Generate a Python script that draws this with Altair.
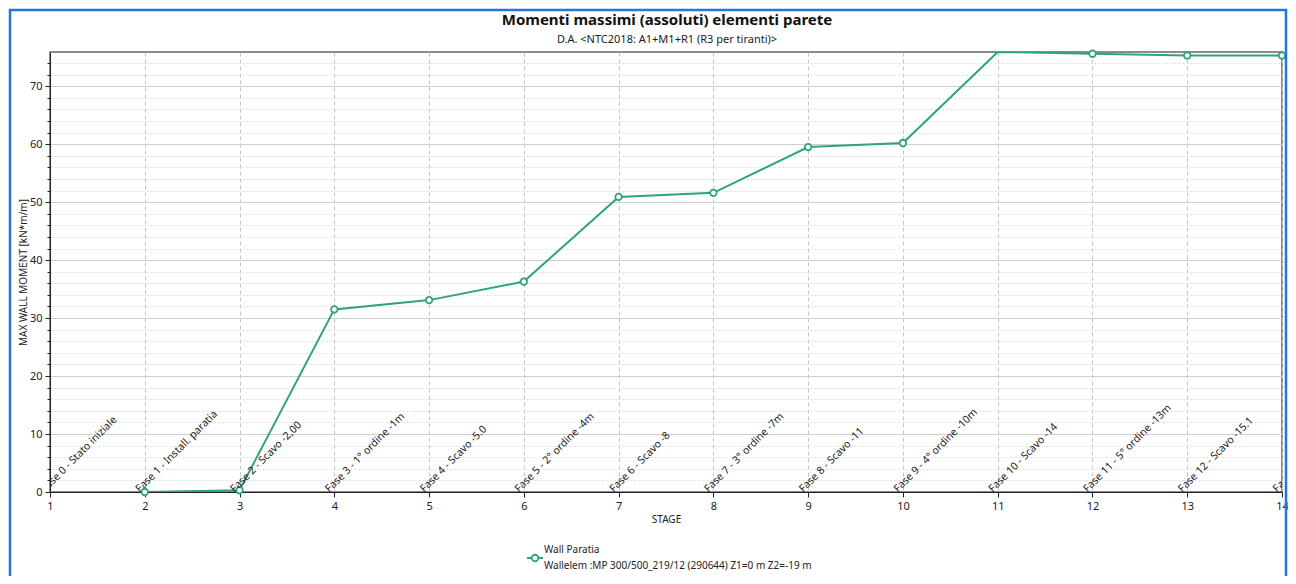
import altair as alt
import pandas as pd

# ---- data ----
stages = [2, 3, 4, 5, 6, 7, 8, 9, 10, 11, 12, 13, 14]
moments = [0.0, 0.3, 31.5, 33.1, 36.3, 50.9, 51.6, 59.5, 60.2, 75.9, 75.6, 75.3, 75.3]

phase_x = [1, 2, 3, 4, 5, 6, 7, 8, 9, 10, 11, 12, 13, 14]
phase_labels = [
    "Fase 0 - Stato iniziale",
    "Fase 1 - Install. paratia",
    "Fase 2 - Scavo -2,00",
    "Fase 3 - 1° ordine -1m",
    "Fase 4 - Scavo -5.0",
    "Fase 5 - 2° ordine -4m",
    "Fase 6 - Scavo -8",
    "Fase 7 - 3° ordine -7m",
    "Fase 8 - Scavo -11",
    "Fase 9 - 4° ordine -10m",
    "Fase 10 - Scavo -14",
    "Fase 11 - 5° ordine -13m",
    "Fase 12 - Scavo -15.1",
    "Fase 13",
]

x_ticks = list(range(1, 15))
y_ticks = list(range(0, 76, 2))
y_max = 75.9

title_text = "Momenti massimi (assoluti) elementi parete"
subtitle_text = "D.A. <NTC2018: A1+M1+R1 (R3 per tiranti)>"
y_title = "MAX WALL MOMENT [kN*m/m]"
x_title = "STAGE"
legend_line1 = "Wall Paratia"
legend_line2 = "Wallelem :MP 300/500_219/12 (290644) Z1=0 m Z2=-19 m"

GREEN = "#2ea37d"
FONT = "Noto Sans"
W, H = 1232, 440

df = pd.DataFrame({"stage": stages, "moment": moments})
df_lab = pd.DataFrame({"stage": phase_x, "label": phase_labels})

xscale = alt.Scale(domain=[1, 14], nice=False, zero=False)
yscale = alt.Scale(domain=[0, y_max], nice=False)

x_enc = alt.X(
    "stage:Q",
    scale=xscale,
    axis=alt.Axis(
        values=x_ticks,
        tickCount=100,
        title=x_title,
        grid=True,
        gridDash=[4, 3],
        gridColor="#c4c4c4",
        tickSize=5,
        tickColor="#222",
        domainColor="#222",
        labelFontSize=11,
        labelColor="#222",
        labelPadding=3,
        labelOverlap=False,
        labelFlush=False,
        titleFontSize=10,
        titleFontWeight="normal",
        titleColor="#222",
        titlePadding=3,
        format="d",
    ),
)

y_enc = alt.Y(
    "moment:Q",
    scale=yscale,
    axis=alt.Axis(
        values=y_ticks,
        tickCount=100,
        title=y_title,
        grid=True,
        gridDash={"condition": {"test": "datum.value % 10 === 0", "value": []}, "value": [2, 2]},
        gridColor={"condition": {"test": "datum.value % 10 === 0", "value": "#cfcfcf"}, "value": "#dedede"},
        tickSize={"condition": {"test": "datum.value % 10 === 0", "value": 5}, "value": 3},
        tickColor="#222",
        domainColor="#222",
        labelExpr="datum.value % 10 === 0 ? datum.label : ''",
        labelOverlap=False,
        labelFontSize=11,
        labelColor="#222",
        labelPadding=3,
        titleFontSize=10,
        titleFontWeight="normal",
        titleColor="#222",
        titleX=-27,
        titleY=220,
        titleAlign="center",
        titleBaseline="middle",
        titleAngle=270,
    ),
)

base = alt.Chart(df)

line = base.mark_line(color=GREEN, strokeWidth=2, clip=True).encode(x=x_enc, y=y_enc)

points = (
    base.transform_filter(f"datum.moment < {y_max}")
    .mark_point(filled=True, fill="white", stroke=GREEN, strokeWidth=1.8, size=42, opacity=1)
    .encode(x=alt.X("stage:Q", scale=xscale), y=alt.Y("moment:Q", scale=yscale))
)

labels = (
    alt.Chart(df_lab)
    .mark_text(angle=315, align="left", baseline="bottom", fontSize=10.5, font=FONT,
               color="#222", clip=True, dx=-4, dy=-1)
    .encode(x=alt.X("stage:Q", scale=xscale), y=alt.YDatum(0, scale=yscale), text="label:N")
)

one = pd.DataFrame({"a": [0]})

# title and subtitle
t_main = alt.Chart(one).mark_text(align="center", baseline="middle", fontSize=15, fontWeight="bold",
                                  font=FONT, color="#111").encode(
    x=alt.value(W / 2 + 1), y=alt.value(-32), text=alt.value(title_text)
)
t_sub = alt.Chart(one).mark_text(align="center", baseline="middle", fontSize=11,
                                 font=FONT, color="#222").encode(
    x=alt.value(W / 2 + 1), y=alt.value(-12), text=alt.value(subtitle_text)
)

# legend (drawn below the plot)
leg_line = alt.Chart(one).mark_rule(color=GREEN, strokeWidth=2).encode(
    x=alt.value(477), x2=alt.value(493), y=alt.value(506)
)
leg_pt = alt.Chart(one).mark_point(filled=True, fill="white", stroke=GREEN, strokeWidth=1.8, size=42, opacity=1).encode(
    x=alt.value(485), y=alt.value(506)
)
leg_t1 = alt.Chart(one).mark_text(align="left", baseline="middle", fontSize=10, font=FONT, color="#222").encode(
    x=alt.value(494), y=alt.value(498), text=alt.value(legend_line1)
)
leg_t2 = alt.Chart(one).mark_text(align="left", baseline="middle", fontSize=10, font=FONT, color="#222").encode(
    x=alt.value(494), y=alt.value(514), text=alt.value(legend_line2)
)

# outer blue frame
frame = alt.Chart(one).mark_rect(fill=None, stroke="#1f7ad6", strokeWidth=2.5).encode(
    x=alt.value(-40), x2=alt.value(1236), y=alt.value(-42), y2=alt.value(560)
)

chart = (
    alt.layer(line, points, labels, t_main, t_sub, leg_line, leg_pt, leg_t1, leg_t2, frame)
    .properties(
        width=W,
        height=H,
        autosize=alt.AutoSizeParams(type="none"),
        padding={"left": 42, "top": 44, "right": 6, "bottom": 84},
    )
    .configure(font=FONT)
    .configure_view(stroke="#666", strokeWidth=1.5)
    .configure_axis(labelFont=FONT, titleFont=FONT)
)

chart.save("out.html", embed_options={"renderer": "svg", "actions": False})
